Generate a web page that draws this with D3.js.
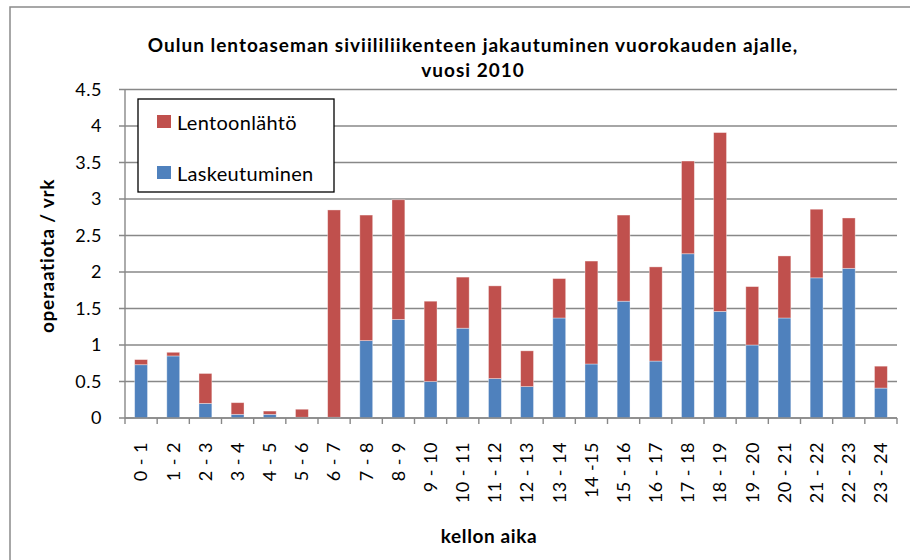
<!DOCTYPE html>
<html>
<head>
<meta charset="utf-8">
<script src="https://cdn.jsdelivr.net/npm/d3@7"></script>
<style>
  body { margin: 0; background: #fff; }
  svg { display: block; font-family: Lato, 'Open Sans', sans-serif; }
</style>
</head>
<body>
<svg width="910" height="560"></svg>
<script>
const hours = ['0 - 1', '1 - 2', '2 - 3', '3 - 4', '4 - 5', '5 - 6', '6 - 7', '7 - 8', '8 - 9', '9 - 10',
  '10 - 11', '11 - 12', '12 - 13', '13 - 14', '14 -15', '15 - 16', '16 - 17', '17 - 18', '18 - 19',
  '19 - 20', '20 - 21', '21 - 22', '22 - 23', '23 - 24']

// laskeutumiset (blue, bottom)
const laskeutuminen = [0.73, 0.85, 0.20, 0.05, 0.05, 0.01, 0.01, 1.06, 1.35, 0.50, 1.23, 0.54,
  0.43, 1.37, 0.74, 1.60, 0.78, 2.25, 1.46, 1.00, 1.37, 1.92, 2.05, 0.41]

// lentoonlähdöt (red, on top)
const lentoonlahto = [0.07, 0.05, 0.41, 0.16, 0.045, 0.11, 2.84, 1.72, 1.64, 1.10, 0.70, 1.27,
  0.49, 0.54, 1.41, 1.18, 1.29, 1.27, 2.45, 0.80, 0.85, 0.94, 0.69, 0.30]

const yTicks = [0, 0.5, 1, 1.5, 2, 2.5, 3, 3.5, 4, 4.5]

const seriesNames = ['Laskeutuminen', 'Lentoonlähtö']
const colors = { Laskeutuminen: '#4F81BD', 'Lentoonlähtö': '#C0504D' }

const titleLines = ['Oulun lentoaseman siviililiikenteen jakautuminen vuorokauden ajalle,', 'vuosi 2010']

const svg = d3.select('svg')
const plot = { left: 125, right: 897, top: 89.5, bottom: 418 }

// chart frame (only left and top edges are inside the picture)
svg.append('rect')
  .attr('x', 10).attr('y', 7)
  .attr('width', 1000).attr('height', 700)
  .attr('fill', 'none')
  .attr('stroke', '#8a8a8a')
  .attr('stroke-width', 1.5)

const x = d3.scaleBand().domain(hours).range([plot.left, plot.right]).paddingInner(0.6).paddingOuter(0.3)
const y = d3.scaleLinear().domain([0, 4.5]).range([plot.bottom, plot.top])

// gridlines
svg.append('g')
  .selectAll('line')
  .data(yTicks)
  .join('line')
  .attr('x1', plot.left - 6)
  .attr('x2', plot.right)
  .attr('y1', d => y(d))
  .attr('y2', d => y(d))
  .attr('stroke', '#888')
  .attr('stroke-width', 1.4)

// y axis line
svg.append('line')
  .attr('x1', plot.left).attr('x2', plot.left)
  .attr('y1', y(4.5)).attr('y2', y(0))
  .attr('stroke', '#888')
  .attr('stroke-width', 1.4)

// y tick labels
const yAxis = svg.append('g')
  .attr('transform', `translate(${plot.left - 23},0)`)
  .call(d3.axisLeft(y).tickValues(yTicks).tickSize(0).tickPadding(0).tickFormat(d3.format('')))
yAxis.select('.domain').remove()
yAxis.selectAll('text')
  .attr('font-family', 'Lato, sans-serif')
  .attr('font-size', 18)
  .attr('letter-spacing', 0.5)
  .attr('fill', '#000')

// bars
const table = hours.map((h, i) => ({ hour: h, Laskeutuminen: laskeutuminen[i], 'Lentoonlähtö': lentoonlahto[i] }))
const stacked = d3.stack().keys(seriesNames)(table)

svg.append('g')
  .selectAll('g')
  .data(stacked)
  .join('g')
  .attr('fill', d => colors[d.key])
  .selectAll('rect')
  .data(d => d)
  .join('rect')
  .attr('x', d => x(d.data.hour))
  .attr('width', x.bandwidth())
  .attr('y', d => y(d[1]))
  .attr('height', d => y(d[0]) - y(d[1]))
  .attr('stroke', 'rgba(255,255,255,0.45)')
  .attr('stroke-width', 0.8)

// x axis line + ticks at category boundaries
const edges = hours.map(h => x(h) - x.paddingOuter() * x.step())
edges.push(plot.right)
svg.append('line')
  .attr('x1', plot.left).attr('x2', plot.right)
  .attr('y1', y(0)).attr('y2', y(0))
  .attr('stroke', '#888')
  .attr('stroke-width', 1.4)
svg.append('g')
  .selectAll('line')
  .data(edges)
  .join('line')
  .attr('x1', d => d).attr('x2', d => d)
  .attr('y1', y(0)).attr('y2', y(0) + 6)
  .attr('stroke', '#888')
  .attr('stroke-width', 1.4)

// x labels, rotated
svg.append('g')
  .selectAll('text')
  .data(hours)
  .join('text')
  .attr('transform', d => `translate(${x(d) + x.bandwidth() / 2},442) rotate(-90)`)
  .attr('dy', '0.35em')
  .attr('text-anchor', 'end')
  .attr('font-size', 18)
  .attr('letter-spacing', 0.5)
  .text(d => d)

// axis titles
svg.append('text')
  .attr('transform', 'translate(47,256) rotate(-90)')
  .attr('dy', '0.35em')
  .attr('text-anchor', 'middle')
  .attr('font-weight', 'bold')
  .attr('font-size', 19)
  .attr('letter-spacing', 0.7)
  .text('operaatiota / vrk')

svg.append('text')
  .attr('x', 489).attr('y', 543)
  .attr('text-anchor', 'middle')
  .attr('font-weight', 'bold')
  .attr('font-size', 19)
  .attr('letter-spacing', 0.6)
  .text('kellon aika')

// title
svg.append('g')
  .selectAll('text')
  .data(titleLines)
  .join('text')
  .attr('x', 473)
  .attr('y', (d, i) => 52 + i * 25)
  .attr('text-anchor', 'middle')
  .attr('font-weight', 'bold')
  .attr('font-size', 19)
  .attr('letter-spacing', 1)
  .text(d => d)

// legend
const legend = svg.append('g').attr('transform', 'translate(138,99)')
legend.append('rect')
  .attr('width', 196).attr('height', 93)
  .attr('fill', '#fff')
  .attr('stroke', '#000')
  .attr('stroke-width', 1.3)
const items = legend.selectAll('g')
  .data(seriesNames.slice().reverse())
  .join('g')
  .attr('transform', (d, i) => `translate(19,${16 + i * 51})`)
items.append('rect')
  .attr('width', 14).attr('height', 13)
  .attr('fill', d => colors[d])
items.append('text')
  .attr('x', 20).attr('y', 15)
  .attr('font-size', 20)
  .attr('letter-spacing', 0.3)
  .text(d => d)
</script>
</body>
</html>
